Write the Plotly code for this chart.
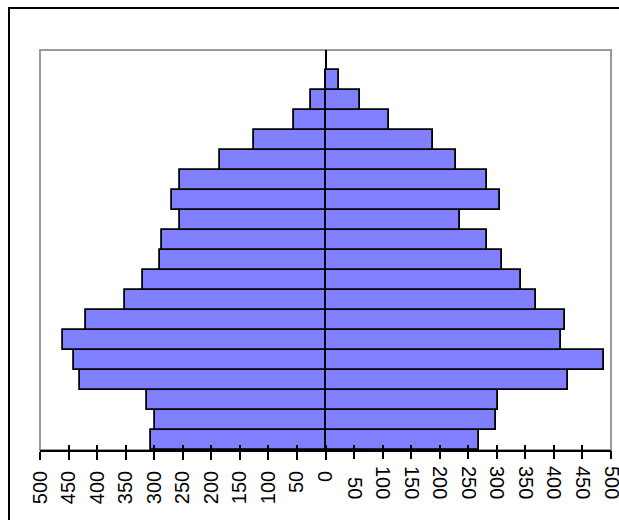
import plotly.graph_objects as go

# Age groups, bottom (youngest) to top (oldest)
age_groups = ["0-4", "5-9", "10-14", "15-19", "20-24", "25-29", "30-34", "35-39",
              "40-44", "45-49", "50-54", "55-59", "60-64", "65-69", "70-74",
              "75-79", "80-84", "85-89", "90+"]
left_values = [305, 298, 312, 430, 440, 459, 420, 352, 319, 290, 286, 254, 268,
               254, 184, 125, 55, 26, 0]
right_values = [269, 299, 302, 424, 487, 413, 420, 369, 342, 309, 283, 236, 306,
                283, 228, 188, 111, 60, 23]

left_tick_vals = [-500, -450, -400, -350, -300, -250, -200, -150, -100, -50, 0]
left_tick_text = ["500", "450", "400", "350", "300", "250", "200", "150", "100", "50", "0"]
right_tick_vals = [50, 100, 150, 200, 250, 300, 350, 400, 450, 500]
right_tick_text = ["50", "100", "150", "200", "250", "300", "350", "400", "450", "500"]

FIG = "\u2007"
right_tick_text_padded = [FIG * (3 - len(t)) + t for t in right_tick_text]

bar_fill = "#8080FF"
bar_line = dict(color="black", width=1.8)

fig = go.Figure()
fig.add_trace(go.Bar(
    y=age_groups, x=[-v for v in left_values], orientation="h",
    marker=dict(color=bar_fill, line=bar_line), showlegend=False,
    hovertext=[str(v) for v in left_values]))
fig.add_trace(go.Bar(
    y=age_groups, x=right_values, orientation="h",
    marker=dict(color=bar_fill, line=bar_line), showlegend=False))
# empty helper traces so the extra tick axes get drawn
for ax in ["x2", "x3"]:
    fig.add_trace(go.Scatter(x=[], y=[], xaxis=ax, yaxis="y", showlegend=False,
                             hoverinfo="skip"))

font = dict(family="Liberation Sans, Arial, sans-serif", size=20, color="black")

L, T, W, H = 40, 50, 571, 400
fig.update_layout(
    width=619, height=520,
    margin=dict(l=L, r=619 - L - W, t=T, b=520 - T - H),
    paper_bgcolor="white", plot_bgcolor="white",
    barmode="overlay", bargap=0,
    xaxis=dict(range=[-500, 500], tickmode="array", tickvals=left_tick_vals,
               ticktext=left_tick_text, tickangle=-90, ticks="outside",
               ticklen=8, tickwidth=1.5, tickcolor="black", showgrid=False,
               zeroline=True, zerolinecolor="black", zerolinewidth=2,
               showline=True, linecolor="black", linewidth=1.5,
               tickfont=font, automargin=False, ticklabelstandoff=3,
               ticklabeloverflow="allow"),
    xaxis2=dict(range=[-500, 500], overlaying="x", anchor="y", side="bottom",
                tickmode="array", tickvals=right_tick_vals,
                ticktext=right_tick_text_padded, tickangle=90, ticks="outside",
                ticklen=8, tickwidth=1.5, tickcolor="black", showgrid=False,
                zeroline=False, showline=False, tickfont=font, automargin=False,
                ticklabelstandoff=3, ticklabeloverflow="allow"),
    xaxis3=dict(range=[-500, 500], overlaying="x", anchor="y", side="bottom",
                tickmode="array", tickvals=left_tick_vals + right_tick_vals,
                showticklabels=False, ticks="inside", ticklen=5, tickwidth=1.5,
                tickcolor="black", showgrid=False, zeroline=False, showline=False,
                automargin=False),
    yaxis=dict(type="category", range=[-0.5, 19.5], showticklabels=False,
               ticks="", showgrid=False, zeroline=False, showline=False,
               automargin=False),
    shapes=[
        dict(type="rect", xref="paper", yref="paper", x0=0, x1=1, y0=0, y1=1,
             line=dict(color="#999999", width=2), layer="below"),
        dict(type="rect", xref="paper", yref="paper",
             x0=(9 - L) / W, x1=(640 - L) / W,
             y0=(T + H - 540) / H, y1=(T + H - 8) / H,
             line=dict(color="black", width=2)),
    ],
)

fig.write_html(
    "out.html",
    config={"displayModeBar": False},
    post_script="document.body.style.margin='0';document.body.style.overflow='hidden';",
)
